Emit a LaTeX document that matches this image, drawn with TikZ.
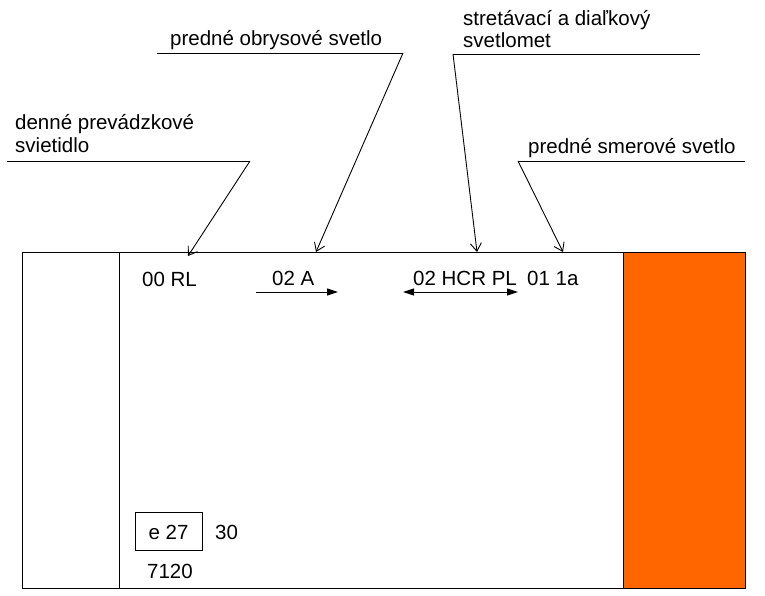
\documentclass[tikz,border=0pt]{standalone}
\usepackage{fontspec}
\setmainfont{Liberation Sans}
\usetikzlibrary{arrows.meta}
\definecolor{lamp}{HTML}{FF6600}
\begin{document}
\begin{tikzpicture}[x=1pt,y=-1pt,
  lbl/.style={anchor=base west,inner sep=0pt,font=\fontsize{20.5}{23}\selectfont},
  leader/.style={line width=0.9pt},
  pointer/.style={line width=0.9pt,-{Straight Barb[length=8pt,width=11pt,line width=0.9pt]}},
  harrow/.style={line width=1pt,-{Triangle[length=11pt,width=7pt]}},
  darrow/.style={line width=1pt,{Triangle[length=11pt,width=7pt]}-{Triangle[length=11pt,width=7pt]}}]
\useasboundingbox (0,0) rectangle (765,595);
\fill[white] (0,0) rectangle (765,595);
% main plate
\fill[lamp] (623,252) rectangle (745,588);
\draw[line width=1pt] (22,252) rectangle (745,588);
\draw[line width=1pt] (623,252) -- (623,588);
\draw[line width=1pt] (119,252) -- (119,588);
% labels at top
\node[lbl] (t1a) at (15,129) {denné prevádzkové};
\node[lbl] (t1b) at (15,152) {svietidlo};
\node[lbl] (t2) at (170,45) {predné obrysové svetlo};
\node[lbl] (t3a) at (463,25) {stretávací a diaľkový};
\node[lbl] (t3b) at (463,47) {svetlomet};
\node[lbl] (t4) at (528,153) {predné smerové svetlo};
% leader lines
\coordinate (l1s) at (7,161); \coordinate (l1e) at (250,161); \coordinate (p1) at (188,256);
\coordinate (l2s) at (157,53); \coordinate (l2e) at (403,53); \coordinate (p2) at (316,252);
\coordinate (l3s) at (453,54); \coordinate (l3e) at (700,54); \coordinate (p3) at (477,252);
\coordinate (l4s) at (518,161); \coordinate (l4e) at (745,161); \coordinate (p4) at (563,252);
\draw[leader] (l1s) -- (l1e);
\draw[pointer] (l1e) -- (p1);
\draw[leader] (l2s) -- (l2e);
\draw[pointer] (l2e) -- (p2);
\draw[leader] (l3s) -- (l3e);
\draw[pointer] (l3s) -- (p3);
\draw[leader] (l4s) -- (l4e);
\draw[pointer] (l4s) -- (p4);
% marks
\node[lbl] (m1) at (142,286) {00 RL};
\node[lbl] (m2) at (272,285) {02 A};
\node[lbl] (m3) at (413,285) {02 HCR PL};
\node[lbl] (m4) at (527,285) {01 1a};
\coordinate (a1s) at (256,292); \coordinate (a1e) at (338,292);
\coordinate (a2s) at (403,292); \coordinate (a2e) at (518,292);
\draw[harrow] (a1s) -- (a1e);
\draw[darrow] (a2s) -- (a2e);
% approval mark
\draw[line width=1pt] (135,512) rectangle (202,550);
\node[lbl,anchor=base] (e) at (168.5,539) {e 27};
\node[lbl] (n30) at (215,539) {30};
\node[lbl] (n7120) at (147,578) {7120};
\end{tikzpicture}
\end{document}
